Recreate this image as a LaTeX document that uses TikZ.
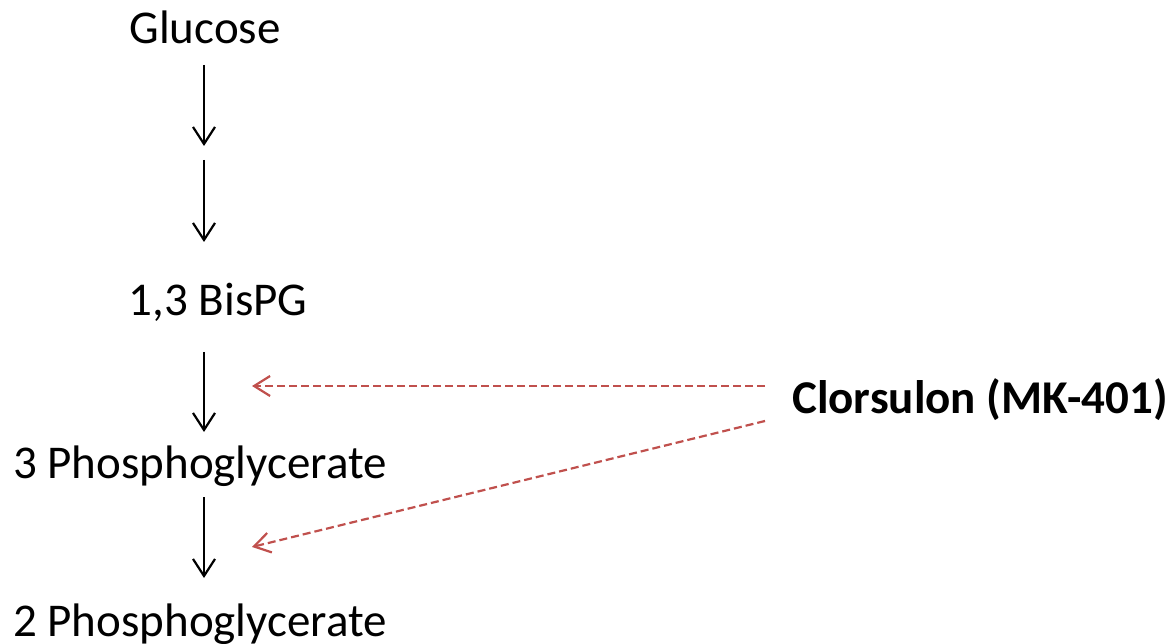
\documentclass[tikz,border=0pt]{standalone}
\usepackage{fontspec}
\setmainfont{Carlito}
\usetikzlibrary{arrows.meta}
\definecolor{inhibred}{HTML}{C0504D}
\tikzset{
  label/.style={anchor=base, inner sep=0pt, font=\fontsize{47}{56}\selectfont},
  step arrow/.style={draw=black, line width=2.2pt, -{Straight Barb[length=17pt,width=22pt,line width=2.2pt]}},
  inhibit/.style={draw=inhibred, line width=2.2pt, dash pattern=on 8pt off 4pt,
    -{Straight Barb[length=16pt,width=20pt,line width=2.2pt]}}
}
\begin{document}
\begin{tikzpicture}[x=1pt,y=-1pt]
  \useasboundingbox (0,0) rectangle (1173,644);
  % pathway metabolites
  \node[label] (glc) at (205,44) {Glucose};
  \node[label] (bpg) at (218,316) {1,3 BisPG};
  \node[label] (pg3) at (200,478) {3 Phosphoglycerate};
  \node[label] (pg2) at (200,636) {2 Phosphoglycerate};
  \node[label, font=\fontsize{47}{56}\selectfont\bfseries] (drug) at (980,413) {Clorsulon (MK-401)};
  % step endpoints
  \coordinate (s1a) at (204,65);  \coordinate (s1b) at (204,146);
  \coordinate (s2a) at (204,160); \coordinate (s2b) at (204,242);
  \coordinate (s3a) at (204,352); \coordinate (s3b) at (204,432);
  \coordinate (s4a) at (204,497); \coordinate (s4b) at (204,578);
  \draw[step arrow] (s1a) -- (s1b);
  \draw[step arrow] (s2a) -- (s2b);
  \draw[step arrow] (s3a) -- (s3b);
  \draw[step arrow] (s4a) -- (s4b);
  % inhibition targets
  \coordinate (d1) at (765,386); \coordinate (t1) at (252,386);
  \coordinate (d2) at (765,421); \coordinate (t2) at (252,547);
  \draw[inhibit] (d1) -- (t1);
  \draw[inhibit] (d2) -- (t2);
\end{tikzpicture}
\end{document}
